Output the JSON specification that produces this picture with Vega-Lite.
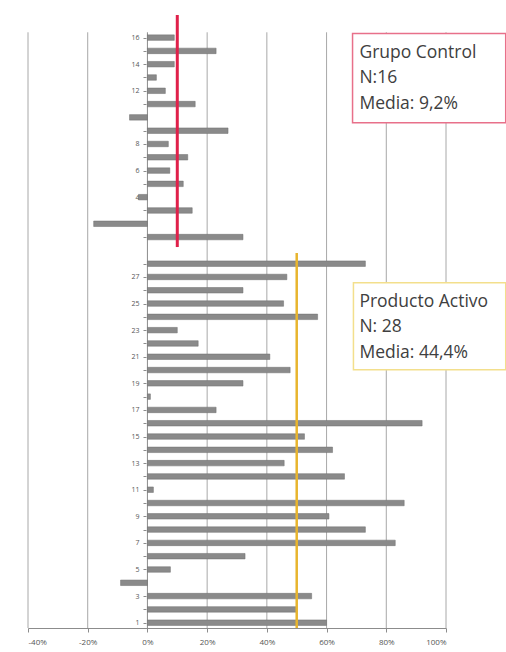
{
  "$schema": "https://vega.github.io/schema/vega-lite/v6.json",
  "autosize": "none",
  "width": 418,
  "height": 613,
  "padding": {"left": 28, "top": 15, "right": 60, "bottom": 24},
  "background": "white",
  "config": {"view": {"stroke": null}, "font": "Open Sans", "axis": {"labelOverlap": false}},
  "layer": [
    {
      "data": {"values": [{"g": -40}, {"g": -20}, {"g": 20}, {"g": 40}, {"g": 60}, {"g": 80}, {"g": 100}]},
      "mark": {"type": "rule", "color": "#a8a8a8", "strokeWidth": 1},
      "encoding": {
        "x": {"field": "g", "type": "quantitative", "title": null,
          "scale": {"domain": [-40, 100], "nice": false},
          "axis": {
            "values": [-40, -20, 0, 20, 40, 60, 80, 100],
            "labelExpr": "datum.value + '%'",
            "grid": false, "domainColor": "#8c8c8c", "tickColor": "#8c8c8c",
            "tickSize": 4, "labelFontSize": 8, "labelColor": "#555555", "labelPadding": 6
          }
        },
        "y": {"datum": 0.6, "type": "quantitative",
          "scale": {"domain": [0.6, 46.7], "nice": false, "zero": false, "padding": 0},
          "axis": {
            "values": [1,2,3,4,5,6,7,8,9,10,11,12,13,14,15,16,17,18,19,20,21,22,23,24,25,26,27,28,30,31,32,33,34,35,36,37,38,39,40,41,42,43,44,45],
            "tickCount": 100,
            "labelExpr": "datum.value <= 28 ? (datum.value % 2 == 1 ? '' + datum.value : '') : ((datum.value - 29) % 2 == 0 ? '' + (datum.value - 29) : '')",
            "grid": false, "domain": false, "offset": -118, "labelOverlap": false, "title": null,
            "tickSize": 3, "tickColor": "#8c8c8c", "labelFontSize": 7, "labelColor": "#555555", "labelPadding": 4
          }
        },
        "y2": {"datum": 45.4}
      }
    },
    {
      "data": {"values": [{}]},
      "mark": {"type": "rule", "color": "#8c8c8c", "strokeWidth": 1},
      "encoding": {
        "x": {"datum": 0, "type": "quantitative"},
        "y": {"datum": 0.6, "type": "quantitative"},
        "y2": {"datum": 45.4}
      }
    },
    {
      "data": {"values": [
        {"grupo": "Control", "n": 16, "fila": 45, "valor": 9},
        {"grupo": "Control", "n": 15, "fila": 44, "valor": 23},
        {"grupo": "Control", "n": 14, "fila": 43, "valor": 9},
        {"grupo": "Control", "n": 13, "fila": 42, "valor": 3},
        {"grupo": "Control", "n": 12, "fila": 41, "valor": 6},
        {"grupo": "Control", "n": 11, "fila": 40, "valor": 16},
        {"grupo": "Control", "n": 10, "fila": 39, "valor": -6},
        {"grupo": "Control", "n": 9, "fila": 38, "valor": 27},
        {"grupo": "Control", "n": 8, "fila": 37, "valor": 7},
        {"grupo": "Control", "n": 7, "fila": 36, "valor": 13.5},
        {"grupo": "Control", "n": 6, "fila": 35, "valor": 7.5},
        {"grupo": "Control", "n": 5, "fila": 34, "valor": 12},
        {"grupo": "Control", "n": 4, "fila": 33, "valor": -3},
        {"grupo": "Control", "n": 3, "fila": 32, "valor": 15},
        {"grupo": "Control", "n": 2, "fila": 31, "valor": -18},
        {"grupo": "Control", "n": 1, "fila": 30, "valor": 32},
        {"grupo": "Activo", "n": 28, "fila": 28, "valor": 73},
        {"grupo": "Activo", "n": 27, "fila": 27, "valor": 46.7},
        {"grupo": "Activo", "n": 26, "fila": 26, "valor": 32},
        {"grupo": "Activo", "n": 25, "fila": 25, "valor": 45.6},
        {"grupo": "Activo", "n": 24, "fila": 24, "valor": 57},
        {"grupo": "Activo", "n": 23, "fila": 23, "valor": 10},
        {"grupo": "Activo", "n": 22, "fila": 22, "valor": 17},
        {"grupo": "Activo", "n": 21, "fila": 21, "valor": 41},
        {"grupo": "Activo", "n": 20, "fila": 20, "valor": 47.8},
        {"grupo": "Activo", "n": 19, "fila": 19, "valor": 32},
        {"grupo": "Activo", "n": 18, "fila": 18, "valor": 1},
        {"grupo": "Activo", "n": 17, "fila": 17, "valor": 23},
        {"grupo": "Activo", "n": 16, "fila": 16, "valor": 92},
        {"grupo": "Activo", "n": 15, "fila": 15, "valor": 52.6},
        {"grupo": "Activo", "n": 14, "fila": 14, "valor": 62},
        {"grupo": "Activo", "n": 13, "fila": 13, "valor": 45.8},
        {"grupo": "Activo", "n": 12, "fila": 12, "valor": 66},
        {"grupo": "Activo", "n": 11, "fila": 11, "valor": 2},
        {"grupo": "Activo", "n": 10, "fila": 10, "valor": 86},
        {"grupo": "Activo", "n": 9, "fila": 9, "valor": 60.8},
        {"grupo": "Activo", "n": 8, "fila": 8, "valor": 73},
        {"grupo": "Activo", "n": 7, "fila": 7, "valor": 83},
        {"grupo": "Activo", "n": 6, "fila": 6, "valor": 32.7},
        {"grupo": "Activo", "n": 5, "fila": 5, "valor": 7.7},
        {"grupo": "Activo", "n": 4, "fila": 4, "valor": -9},
        {"grupo": "Activo", "n": 3, "fila": 3, "valor": 55},
        {"grupo": "Activo", "n": 2, "fila": 2, "valor": 50},
        {"grupo": "Activo", "n": 1, "fila": 1, "valor": 60}
      ]},
      "mark": {"type": "bar", "orient": "horizontal", "size": 5.5, "color": "#8a8a8a", "stroke": "#6e6e6e", "strokeWidth": 0.5},
      "encoding": {
        "x": {"field": "valor", "type": "quantitative", "title": null},
        "y": {"field": "fila", "type": "quantitative", "title": null}
      }
    },
    {
      "data": {"values": [{}]},
      "mark": {"type": "rule", "color": "#e0204a", "strokeWidth": 3},
      "encoding": {
        "x": {"datum": 10, "type": "quantitative"},
        "y": {"datum": 29.25, "type": "quantitative"},
        "y2": {"datum": 46.7}
      }
    },
    {
      "data": {"values": [{}]},
      "mark": {"type": "rule", "color": "#e8b52e", "strokeWidth": 2.5},
      "encoding": {
        "x": {"datum": 50, "type": "quantitative"},
        "y": {"datum": 0.6, "type": "quantitative"},
        "y2": {"datum": 28.8}
      }
    },
    {
      "data": {"values": [{}]},
      "mark": {"type": "rect", "fill": "white", "stroke": "#e8708a", "strokeWidth": 1.5},
      "encoding": {
        "x": {"datum": 68.7, "type": "quantitative"},
        "x2": {"datum": 120},
        "y": {"datum": 45.3, "type": "quantitative"},
        "y2": {"datum": 38.6}
      }
    },
    {
      "data": {"values": [{}]},
      "mark": {"type": "rect", "fill": "white", "stroke": "#f3df8c", "strokeWidth": 1.5},
      "encoding": {
        "x": {"datum": 69, "type": "quantitative"},
        "x2": {"datum": 120},
        "y": {"datum": 26.57, "type": "quantitative"},
        "y2": {"datum": 20.03}
      }
    },
    {
      "data": {"values": [{"txt": "Grupo Control\nN:16\nMedia: 9,2%"}]},
      "mark": {"type": "text", "align": "left", "baseline": "middle", "lineBreak": "\n", "lineHeight": 25.5, "fontSize": 17.5, "color": "#404040"},
      "encoding": {
        "x": {"datum": 71, "type": "quantitative"},
        "y": {"datum": 43.87, "type": "quantitative"},
        "text": {"field": "txt"}
      }
    },
    {
      "data": {"values": [{"txt": "Producto Activo\nN: 28\nMedia: 44,4%"}]},
      "mark": {"type": "text", "align": "left", "baseline": "middle", "lineBreak": "\n", "lineHeight": 25.5, "fontSize": 17.5, "color": "#404040"},
      "encoding": {
        "x": {"datum": 71, "type": "quantitative"},
        "y": {"datum": 25.14, "type": "quantitative"},
        "text": {"field": "txt"}
      }
    }
  ]
}
